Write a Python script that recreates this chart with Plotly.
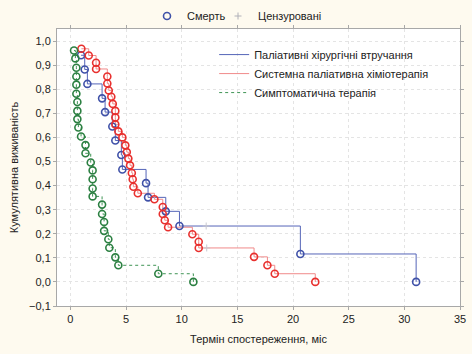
import plotly.graph_objects as go

# ---- data ----
blue_name = "Паліативні хірургічні втручання"
blue_t = [0.96, 1.29, 1.53, 2.85, 3.12, 3.77, 4.04, 4.58, 4.67, 6.8, 6.98, 8.57, 9.8, 20.66, 31.06]
blue_s = [0.941, 0.882, 0.822, 0.762, 0.705, 0.645, 0.587, 0.527, 0.467, 0.41, 0.351, 0.293, 0.232, 0.116, 0.0]
blue_cens_t = [12.2]
blue_cens_s = [0.232]

red_name = "Системна паліативна хіміотерапія"
red_t = [0.99, 1.65, 2.31, 2.31, 3.32, 3.32, 3.45, 3.68, 3.81, 4.04, 4.04, 4.04, 4.31, 4.67, 4.94,
         5.07, 5.21, 5.36, 5.52, 5.6, 5.66, 6.06, 7.55, 8.3, 8.3, 8.48, 8.78, 10.96, 11.53, 11.53,
         16.5, 17.7, 18.36, 22.0]
red_s = [0.968, 0.94, 0.91, 0.884, 0.853, 0.824, 0.795, 0.769, 0.739, 0.71, 0.683, 0.654, 0.625, 0.6,
         0.567, 0.539, 0.512, 0.484, 0.452, 0.426, 0.395, 0.368, 0.343, 0.311, 0.282, 0.256, 0.227,
         0.198, 0.167, 0.141, 0.104, 0.069, 0.034, 0.0]
red_cens_t = [12.25]
red_cens_s = [0.141]

green_name = "Симптоматична терапія"
green_t = [0.33, 0.45, 0.54, 0.54, 0.54, 0.54, 0.63, 0.63, 0.63, 0.72, 0.96, 1.36, 1.36, 1.83,
           2.0, 2.0, 2.0, 2.0, 2.85, 2.85, 3.03, 3.03, 3.41, 3.5, 4.04, 4.31, 7.9, 11.05]
green_s = [0.961, 0.928, 0.889, 0.853, 0.819, 0.781, 0.747, 0.71, 0.676, 0.641, 0.604, 0.568,
           0.534, 0.496, 0.463, 0.426, 0.388, 0.355, 0.321, 0.282, 0.249, 0.212, 0.177, 0.142,
           0.102, 0.069, 0.034, 0.0]

x_ticks = [0, 5, 10, 15, 20, 25, 30, 35]
y_ticks = [-0.1, 0.0, 0.1, 0.2, 0.3, 0.4, 0.5, 0.6, 0.7, 0.8, 0.9, 1.0]

legend_death = "Смерть"
legend_cens = "Цензуровані"
x_title = "Термін спостереження, міс"
y_title = "Кумулятивна виживаність"

FONT = "Liberation Sans Narrow, Arial Narrow, Liberation Sans, Arial, sans-serif"

series = [
    (blue_name, blue_t, blue_s, blue_cens_t, blue_cens_s, "#3F51A8", "#5565B8", "solid"),
    (red_name, red_t, red_s, red_cens_t, red_cens_s, "#E8302E", "#F08A8A", "solid"),
    (green_name, green_t, green_s, [], [], "#2C8042", "#3F9455", "dot"),
]

fig = go.Figure()

for name, t, s, ct, cs, mcol, lcol, dash in series:
    pts = sorted(list(zip(t, s)) + list(zip(ct, cs)), key=lambda p: (p[0], -p[1]))
    fig.add_trace(go.Scatter(
        x=[p[0] for p in pts], y=[p[1] for p in pts], mode="lines",
        line=dict(color=lcol, width=1, dash=dash, shape="hv"),
        name=name, legend="legend2", showlegend=True, hoverinfo="skip"))

for name, t, s, ct, cs, mcol, lcol, dash in series:
    fig.add_trace(go.Scatter(
        x=t, y=s, mode="markers",
        marker=dict(symbol="circle-open", size=7, color=mcol, line=dict(width=1.6, color=mcol)),
        showlegend=False, name=name))
    if ct:
        fig.add_trace(go.Scatter(
            x=ct, y=cs, mode="markers",
            marker=dict(symbol="cross-thin-open", size=5, color="#C8C8D0", line=dict(width=1, color="#C8C8D0")),
            showlegend=False, name=name))

# top legend entries
fig.add_trace(go.Scatter(
    x=[None], y=[None], mode="markers", name=legend_death,
    marker=dict(symbol="circle-open", size=7, color="#3F51A8", line=dict(width=1.6, color="#3F51A8")),
    legend="legend"))
fig.add_trace(go.Scatter(
    x=[None], y=[None], mode="markers", name=legend_cens,
    marker=dict(symbol="cross-thin-open", size=5, color="#B0B0B8", line=dict(width=1, color="#B0B0B8")),
    legend="legend3"))

axis_common = dict(
    showline=True, linecolor="#A8A8A8", linewidth=1, mirror="ticks",
    ticks="outside", ticklen=3, tickcolor="#A8A8A8",
    showgrid=True, gridcolor="#E4E4E4", griddash="dot", gridwidth=1,
    zeroline=False, tickfont=dict(family=FONT, size=11, color="#222222"),
    automargin=False,
)

top_legend = dict(orientation="h", xref="container", yref="container",
                  y=1 - 16 / 354, xanchor="left", yanchor="middle",
                  bgcolor="rgba(0,0,0,0)", font=dict(family=FONT, size=11),
                  itemwidth=30)

fig.update_layout(
    width=472, height=354,
    margin=dict(l=57, r=12, t=29, b=48, autoexpand=False),
    paper_bgcolor="#FEFAEF", plot_bgcolor="#FFFFFF",
    separators=", ",
    font=dict(family=FONT, size=11, color="#222222"),
    xaxis=dict(range=[-1.2, 35], tickvals=x_ticks, **axis_common,
               title=dict(text=x_title, font=dict(family=FONT, size=11), standoff=11)),
    yaxis=dict(range=[-0.1, 1.05], tickvals=y_ticks, tickformat=".1f", **axis_common,
               title=dict(text=y_title, font=dict(family=FONT, size=11), standoff=8)),
    legend=dict(x=147 / 472, **top_legend),
    legend3=dict(x=218 / 472, **top_legend),
    legend2=dict(orientation="v", x=0.39, y=0.96, xanchor="left", yanchor="top",
                 bgcolor="rgba(0,0,0,0)", font=dict(family=FONT, size=11),
                 itemwidth=30, tracegroupgap=0),
    showlegend=True,
)

fig.write_html("out.html")
